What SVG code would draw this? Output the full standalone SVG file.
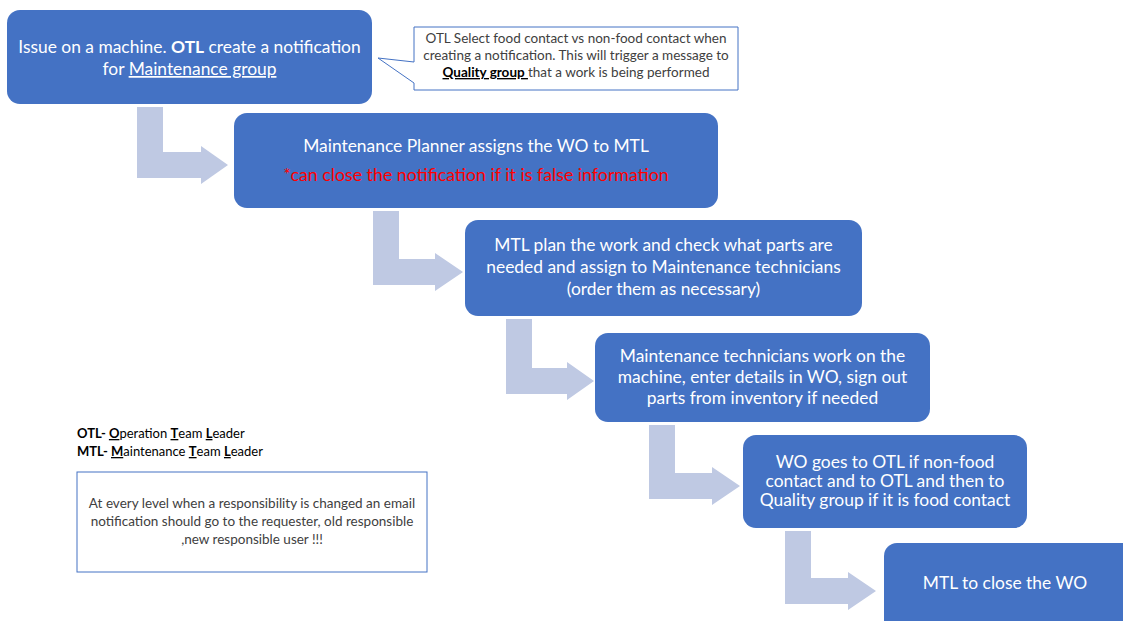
<svg xmlns="http://www.w3.org/2000/svg" width="1123" height="621" viewBox="0 0 1123 621">
<style>
.box{fill:#4472C4;}
.arr{fill:#BFC9E3;}
.t{font-family:Lato,"Liberation Sans",sans-serif;font-size:17.4px;fill:#FFFFFF;text-anchor:middle;}
.red{fill:#FF0000;font-size:17.8px;}
.s{font-family:Lato,"Liberation Sans",sans-serif;font-size:13.5px;fill:#404040;text-anchor:middle;}
.lg{font-family:Lato,"Liberation Sans",sans-serif;font-size:13px;fill:#000000;}
.u{text-decoration:underline;}
.b{font-weight:bold;}
</style>
<rect width="1123" height="621" fill="#FFFFFF"/>
<g id="connectors">
<path class="arr" d="M137,107 H163 V152 H201 V146 L228,165 L201,184 V178 H137 Z"/>
<path class="arr" d="M373,211 H399 V259 H435 V253 L463,272 L435,291 V285 H373 Z"/>
<path class="arr" d="M506,319 H532 V368 H567 V362 L594,381 L567,400 V394 H506 Z"/>
<path class="arr" d="M649,425 H675 V473 H712 V467 L740,486 L712,505 V499 H649 Z"/>
<path class="arr" d="M785,531 H811 V578 H848 V572 L876,591 L848,610 V604 H785 Z"/>
</g>
<g id="node1">
<rect class="box" x="7" y="10" width="365" height="94" rx="13"/>
<text class="t" x="189.5" y="53">Issue on a machine. <tspan class="b">OTL</tspan> create a notification</text>
<text class="t" x="189.5" y="75">for <tspan class="u">Maintenance group</tspan></text>
</g>
<g id="callout">
<path d="M414,27 H738 V90 H414 V83 L378,58 L414,62 Z" fill="#FFFFFF" stroke="#4472C4" stroke-width="1"/>
<text class="s" x="576" y="43">OTL Select food contact vs non-food contact when</text>
<text class="s" x="576" y="60">creating a notification. This will trigger a message to</text>
<text class="s" x="576" y="77"><tspan class="b u" fill="#000000">Quality group </tspan>that a work is being performed</text>
</g>
<g id="node2">
<rect class="box" x="234" y="113" width="484" height="95" rx="13"/>
<text class="t" x="476" y="152">Maintenance Planner assigns the WO to MTL</text>
<text class="t red" x="476" y="181">*can close the notification if it is false information</text>
</g>
<g id="node3">
<rect class="box" x="465" y="220" width="397" height="96" rx="13"/>
<text class="t" x="663.5" y="251">MTL plan the work and check what parts are</text>
<text class="t" x="663.5" y="273">needed and assign to Maintenance technicians</text>
<text class="t" x="663.5" y="295">(order them as necessary)</text>
</g>
<g id="node4">
<rect class="box" x="595" y="333" width="335" height="89" rx="13"/>
<text class="t" x="762.5" y="362">Maintenance technicians work on the</text>
<text class="t" x="762.5" y="383">machine, enter details in WO, sign out</text>
<text class="t" x="762.5" y="404">parts from inventory if needed</text>
</g>
<g id="node5">
<rect class="box" x="743" y="435" width="284" height="93" rx="13"/>
<text class="t" x="885" y="468">WO goes to OTL if non-food</text>
<text class="t" x="885" y="487">contact and to OTL and then to</text>
<text class="t" x="885" y="506">Quality group if it is food contact</text>
</g>
<g id="node6">
<rect class="box" x="884" y="543" width="260" height="95" rx="13"/>
<text class="t" x="1005" y="589">MTL to close the WO</text>
</g>
<g id="legend">
<text class="lg" x="77" y="438"><tspan class="b">OTL- </tspan><tspan class="b u">O</tspan>peration <tspan class="b u">T</tspan>eam <tspan class="b u">L</tspan>eader</text>
<text class="lg" x="77" y="456"><tspan class="b">MTL- </tspan><tspan class="b u"> M</tspan>aintenance <tspan class="b u">T</tspan>eam <tspan class="b u">L</tspan>eader</text>
</g>
<g id="note">
<rect x="77" y="472" width="350" height="100" fill="#FFFFFF" stroke="#4472C4" stroke-width="1"/>
<text class="s" x="252" y="508">At every level when a responsibility is changed an email</text>
<text class="s" x="252" y="526">notification should go to the requester, old responsible</text>
<text class="s" x="252" y="544">,new responsible user !!!</text>
</g>
</svg>
